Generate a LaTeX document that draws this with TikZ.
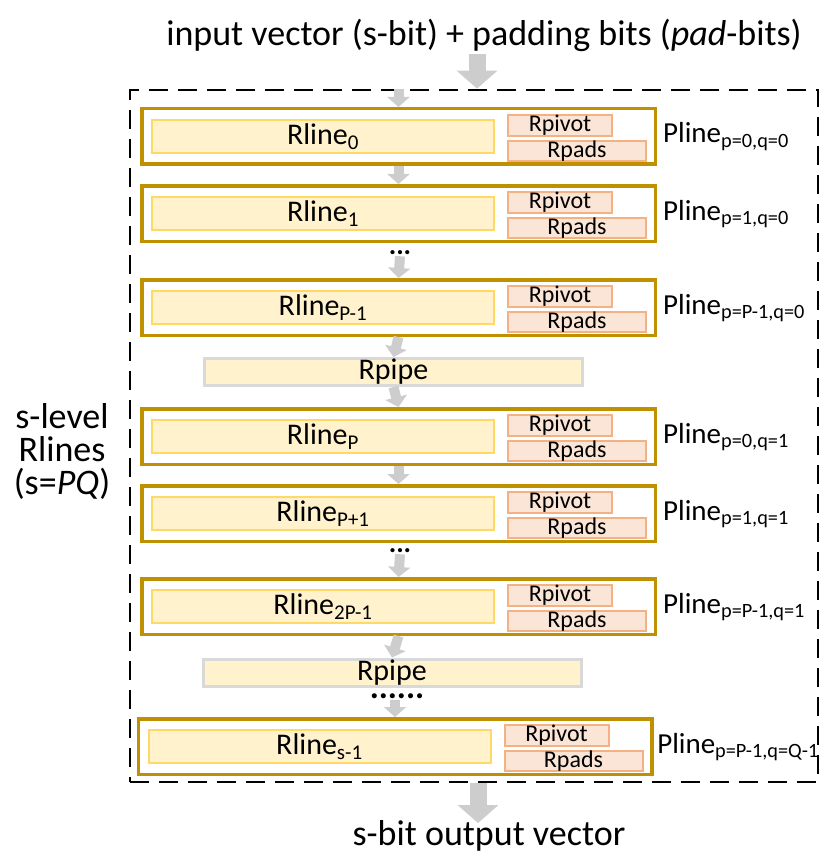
\documentclass[tikz,border=0pt]{standalone}
\usepackage{fontspec}
\setmainfont{Carlito}
\usetikzlibrary{arrows.meta}
\definecolor{plinegold}{HTML}{BF9000}
\definecolor{rlinefill}{HTML}{FFF2CC}
\definecolor{rlineedge}{HTML}{FFD966}
\definecolor{regfill}{HTML}{FBE5D6}
\definecolor{regedge}{HTML}{F4B183}
\definecolor{pipeedge}{HTML}{D9D9D9}
\definecolor{arrowgray}{HTML}{CDCDCD}
\tikzstyle{outerbox}=[rectangle,draw=black,line width=2.8pt,dash pattern=on 19pt off 10pt,minimum width=688pt,minimum height=692pt,inner sep=0pt]
\tikzstyle{pline}=[rectangle,draw=plinegold,fill=white,line width=3.5pt,minimum width=513.5pt,minimum height=55.5pt,inner sep=0pt]
\tikzstyle{rline}=[rectangle,draw=rlineedge,fill=rlinefill,line width=2pt,minimum width=342pt,minimum height=33pt,inner sep=0pt,font=\fontsize{30}{30}\selectfont]
\tikzstyle{rpivot}=[rectangle,draw=regedge,fill=regfill,line width=2pt,minimum width=104pt,minimum height=19pt,inner sep=0pt,font=\fontsize{24}{24}\selectfont]
\tikzstyle{rpads}=[rpivot,minimum width=138pt,minimum height=20pt]
\tikzstyle{rpipe}=[rectangle,draw=pipeedge,fill=rlinefill,line width=3pt,minimum width=378pt,minimum height=27pt,inner sep=0pt,font=\fontsize{30}{30}\selectfont]
\tikzstyle{plabel}=[anchor=base west,inner sep=0pt,font=\fontsize{29}{29}\selectfont]
\tikzstyle{dots}=[inner sep=1pt,font=\bfseries\fontsize{28}{28}\selectfont]
\tikzstyle{pipearrow}=[arrowgray,line width=10pt,-{Triangle[width=22pt,length=10pt]}]
\tikzstyle{bigarrow}=[arrowgray,line width=17pt,-{Triangle[width=40pt,length=18pt]}]

\begin{document}
\begin{tikzpicture}[x=1pt,y=-1pt]
    \useasboundingbox (0,0) rectangle (821,853);

    \node[font=\fontsize{36}{36}\selectfont] (title) at (484,35) {input vector (s-bit) + padding bits (\textit{pad}-bits)};
    \node[font=\fontsize{36}{33}\selectfont, align=center] (levels) at (62,451) {s-level\\Rlines\\(s=\textit{PQ})};
    \node[font=\fontsize{36}{36}\selectfont] (output) at (489,836) {s-bit output vector};
    \node[outerbox] (box) at (474,436) {};

    % Plines with their registers
    \foreach \t/\dx/\n/\rsub/\psub in {107/0/0/0/{p=0,q=0}, 184/0/1/1/{p=1,q=0}, 278/0/2/{P-1}/{p=P-1,q=0},
            407/0/3/P/{p=0,q=1}, 484/0/4/{P+1}/{p=1,q=1}, 577/0/5/{2P-1}/{p=P-1,q=1}, 717/-3.5/6/{s-1}/{p=P-1,q=Q-1}}
    {
        \node[pline] (pl\n) at ({398.5+(\dx)},{\t+29.5}) {};
        \node[rline] (rl\n) at ({323+(\dx)},{\t+29.5}) {Rline\textsubscript{\rsub}};
        \node[rpivot] (rv\n) at ({560+(\dx)},{\t+18.5}) {Rpivot};
        \node[rpads] (rd\n) at ({577+(\dx)},{\t+44}) {Rpads};
        \node[plabel] (lab\n) at ({663+1.7*(\dx)},{\t+36}) {Pline\textsubscript{\psub}};
    }

    \node[rpipe] (pipe1) at (393.5,372) {Rpipe};
    \node[rpipe] (pipe2) at (392,672.5) {Rpipe};
    \node[dots] (dots1) at (400,253) {...};
    \node[dots] (dots2) at (400,551) {...};
    \node[dots, font=\bfseries\fontsize{34}{34}\selectfont] (dots3) at (397,696) {......};

    \coordinate (intop) at (477,54);
    \coordinate (outtip) at (478,823);

    \draw[bigarrow] (intop) -- (intop |- box.north);
    \draw[bigarrow] (box.south -| outtip) -- (outtip);

    \draw[pipearrow] (box.north -| pl0.north) -- (pl0.north);
    \draw[pipearrow] (pl0.south) -- (pl1.north);
    \draw[pipearrow] (dots1.south) -- (pl2.north);
    \draw[pipearrow] (pl2.south) -- (pipe1.north);
    \draw[pipearrow] (pipe1.south) -- (pl3.north);
    \draw[pipearrow] (pl3.south) -- (pl4.north);
    \draw[pipearrow] (dots2.south) -- (pl5.north);
    \draw[pipearrow] (pl5.south) -- (pipe2.north);
    \draw[pipearrow] (dots3.south -| pl6.north) -- (pl6.north);
\end{tikzpicture}
\end{document}
